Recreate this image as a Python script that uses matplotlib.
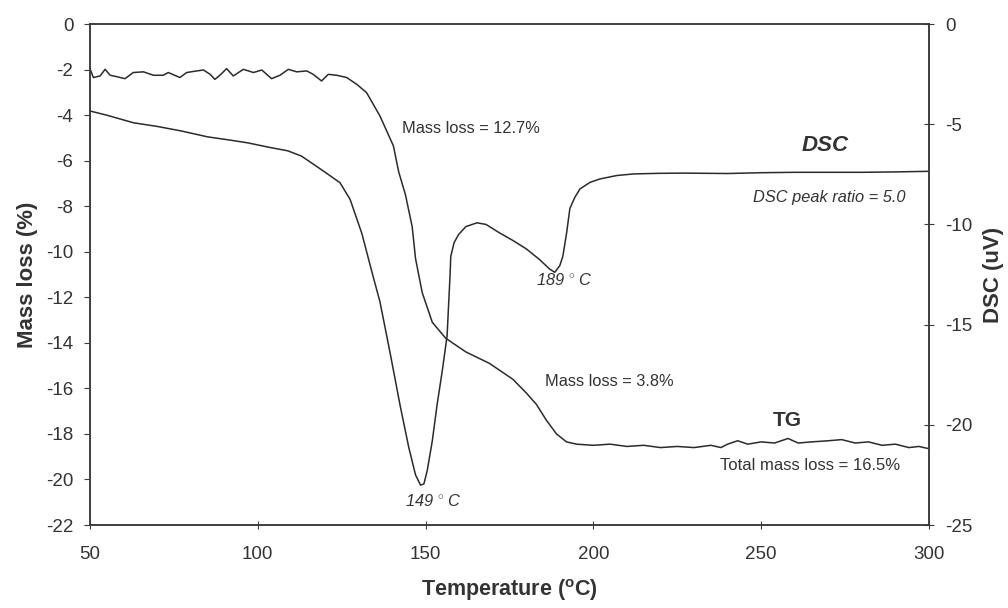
#!/usr/bin/env python
# -*- coding: utf-8 -*-

"""
TG / DSC curves vs temperature (twin y axes)
"""

import numpy as np
import matplotlib
matplotlib.use('Agg')
from matplotlib import pyplot as plt

# TG curve, mass loss (%) on left axis
tg_temp = [50, 51, 53, 54.5, 56, 57.9, 60.4, 62.9, 65.9, 68.9, 71.8, 73.3,
           76.8, 78.8, 81.8, 83.8, 85.8, 87.2, 88.7, 90.7, 92.7, 95.7, 98.7,
           101.2, 104.1, 106.6, 109.1, 111.6, 114.6, 116.5, 119, 121, 123.5,
           126.5, 129.5, 132.4, 136.4, 140.4, 142, 144, 146, 147, 149, 152,
           156, 162, 169, 176, 180, 183, 186, 189, 192, 195, 200, 205, 210,
           215, 220, 225, 230, 235, 238, 240, 243, 246, 250, 254, 258, 261,
           265, 270, 274, 278, 282, 286, 290, 294, 297, 300]
tg_mass = [-1.96, -2.35, -2.28, -1.99, -2.25, -2.31, -2.40, -2.13, -2.10,
           -2.25, -2.25, -2.13, -2.35, -2.13, -2.06, -2.02, -2.21, -2.43,
           -2.25, -1.96, -2.28, -1.99, -2.13, -2.02, -2.40, -2.25, -1.99,
           -2.10, -2.06, -2.21, -2.50, -2.21, -2.25, -2.35, -2.65, -3.01,
           -4.04, -5.35, -6.5, -7.5, -8.9, -10.3, -11.8, -13.1, -13.8, -14.4,
           -14.9, -15.6, -16.2, -16.7, -17.4, -18.0, -18.35, -18.45, -18.5,
           -18.45, -18.55, -18.5, -18.6, -18.55, -18.6, -18.5, -18.6, -18.45,
           -18.3, -18.45, -18.35, -18.4, -18.2, -18.4, -18.35, -18.3, -18.25,
           -18.4, -18.35, -18.5, -18.45, -18.6, -18.55, -18.65]

# DSC curve (uV) on right axis
dsc_temp = [50, 55, 63, 70, 77, 85, 92, 97, 103, 109, 113, 116, 120, 124.5,
            127.5, 131, 134.3, 136.4, 139.5, 142.4, 145, 147, 148.5, 149.5,
            150.5, 152, 153.4, 155, 156.4, 157.3, 157.5, 158.5, 159.8, 162,
            165.3, 168, 172, 176, 180, 184, 186.9, 188.5, 190, 190.9, 192,
            193, 194.5, 196, 199, 202, 207, 212, 220, 227, 240, 250, 260,
            270, 280, 290, 300]
dsc_val = [-4.34, -4.55, -4.93, -5.11, -5.33, -5.63, -5.80, -5.93, -6.14,
           -6.33, -6.59, -6.93, -7.39, -7.92, -8.75, -10.45, -12.56, -13.86,
           -16.48, -19.03, -21.14, -22.5, -23.01, -22.95, -22.27, -20.8,
           -19.03, -17.27, -15.57, -12.5, -11.59, -10.91, -10.51, -10.11,
           -9.92, -10.0, -10.42, -10.8, -11.22, -11.76, -12.22, -12.39,
           -12.05, -11.59, -10.45, -9.2, -8.64, -8.23, -7.9, -7.73, -7.56,
           -7.48, -7.45, -7.44, -7.46, -7.42, -7.40, -7.40, -7.40, -7.38,
           -7.35]

x_ticks = [50, 100, 150, 200, 250, 300]
left_ticks = list(range(0, -23, -2))
right_ticks = [0, -5, -10, -15, -20, -25]

# (text, x, y on left axis, ha, style, weight, size)
notes = [
    ('Mass loss = 12.7%', 143, -4.6, 'left', 'normal', 'normal', 11.8),
    ('DSC', 269, -5.35, 'center', 'italic', 'bold', 16),
    ('DSC peak ratio = 5.0', 293, -7.6, 'right', 'italic', 'normal', 11.8),
    ('189 $^{\\circ}$ C', 183, -11.25, 'left', 'italic', 'normal', 11.8),
    ('Mass loss = 3.8%', 185.6, -15.7, 'left', 'normal', 'normal', 11.8),
    ('TG', 257.7, -17.4, 'center', 'normal', 'bold', 15),
    ('Total mass loss = 16.5%', 237.7, -19.4, 'left', 'normal', 'normal', 12),
    ('149 $^{\\circ}$ C', 143.9, -20.95, 'left', 'italic', 'normal', 11.8),
]

plt.rcParams['font.family'] = ['Liberation Sans', 'DejaVu Sans']
plt.rcParams['axes.unicode_minus'] = False
plt.rcParams['mathtext.fontset'] = 'custom'
plt.rcParams['mathtext.rm'] = 'Liberation Sans'
plt.rcParams['mathtext.it'] = 'Liberation Sans:italic'
plt.rcParams['mathtext.bf'] = 'Liberation Sans:bold'

line_col = '#2b2b2b'
spine_col = '#3a3a3a'
text_col = '#333333'


def get_plot():
    fig = plt.figure(figsize=(10.08, 6.08), dpi=100)
    ax = fig.add_axes((0.0893, 0.1365, 0.8323, 0.824))
    ax2 = ax.twinx()

    ax.plot(tg_temp, tg_mass, color=line_col, lw=1.1)
    ax2.plot(dsc_temp, dsc_val, color=line_col, lw=1.1)

    ax.set_xlim(50, 300)
    ax.set_ylim(-22, 0)
    ax2.set_ylim(-25, 0)
    ax.set_xticks(x_ticks)
    ax.set_yticks(left_ticks)
    ax2.set_yticks(right_ticks)

    for a in (ax, ax2):
        for s in a.spines.values():
            s.set_color(spine_col)
            s.set_linewidth(1.1)
    ax.tick_params(axis='x', direction='inout', length=6, pad=12,
                   labelsize=13.5, colors=spine_col, labelcolor=text_col)
    ax.tick_params(axis='y', direction='out', length=4, pad=8,
                   labelsize=13.5, colors=spine_col, labelcolor=text_col)
    ax2.tick_params(axis='y', direction='inout', length=7, pad=8,
                    labelsize=13.5, colors=spine_col, labelcolor=text_col)

    ax.set_xlabel('Temperature ($^{\\mathbf{o}}$C)', fontsize=15.5,
                  fontweight='bold', color=text_col, labelpad=10)
    ax.set_ylabel('Mass loss (%)', fontsize=16, fontweight='bold',
                  color=text_col, labelpad=6)
    ax2.set_ylabel('DSC (uV)', fontsize=16, fontweight='bold',
                   color=text_col, labelpad=8)

    for txt, x, y, ha, style, weight, size in notes:
        ax.text(x, y, txt, ha=ha, va='center', fontsize=size,
                fontstyle=style, fontweight=weight, color=text_col)

    fig.savefig('out.png', dpi=100)


if __name__ == '__main__':
    get_plot()
